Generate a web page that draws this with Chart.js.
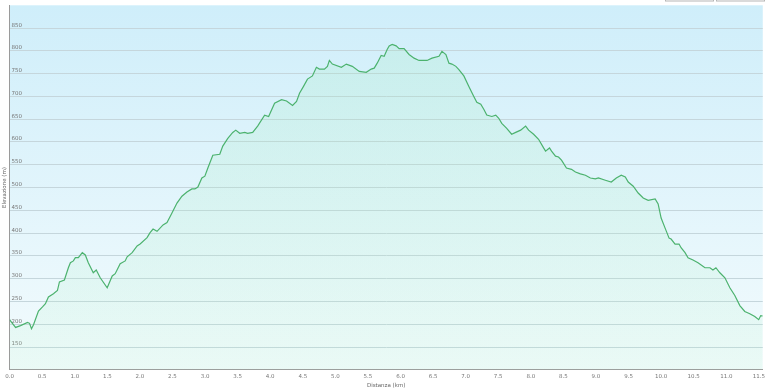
<!DOCTYPE html>
<html><head><meta charset="utf-8">
<style>html,body{margin:0;padding:0;background:#fff;overflow:hidden}</style>
<script src="https://cdn.jsdelivr.net/npm/chart.js@4/dist/chart.umd.min.js"></script>
</head><body>
<canvas id="c" width="768" height="389"></canvas>
<script>
// Distance along the track (km)
const distances = [0.000,0.031,0.092,0.168,0.275,0.306,0.336,0.367,0.443,0.505,0.550,0.596,0.673,0.734,0.765,0.841,0.902,0.933,0.979,1.009,1.055,1.116,1.162,1.208,1.284,1.330,1.391,1.498,1.575,1.621,1.697,1.774,1.804,1.881,1.957,2.003,2.110,2.156,2.202,2.263,2.355,2.416,2.492,2.569,2.645,2.722,2.798,2.844,2.890,2.951,2.997,3.043,3.119,3.226,3.272,3.349,3.425,3.471,3.532,3.609,3.654,3.731,3.807,3.914,3.976,4.067,4.174,4.251,4.343,4.404,4.450,4.511,4.572,4.648,4.709,4.755,4.832,4.878,4.908,4.954,5.092,5.168,5.260,5.367,5.474,5.550,5.596,5.642,5.703,5.749,5.795,5.826,5.872,5.933,5.979,6.055,6.131,6.208,6.284,6.407,6.483,6.590,6.636,6.697,6.743,6.789,6.850,6.896,6.972,7.049,7.125,7.171,7.232,7.278,7.324,7.401,7.462,7.508,7.554,7.630,7.706,7.768,7.844,7.920,7.966,8.043,8.119,8.196,8.226,8.287,8.318,8.379,8.425,8.471,8.547,8.624,8.685,8.761,8.838,8.914,8.991,9.037,9.144,9.235,9.312,9.388,9.450,9.495,9.572,9.648,9.725,9.801,9.908,9.954,10.000,10.061,10.122,10.153,10.214,10.275,10.306,10.367,10.413,10.489,10.566,10.673,10.749,10.795,10.841,10.902,10.979,11.055,11.131,11.208,11.284,11.361,11.437,11.498,11.529,11.560];
// Elevation (m)
const elevations = [210,204,193,197,204,202,190,199,229,238,245,260,267,274,293,297,324,335,339,346,346,357,352,335,313,319,302,280,306,311,333,339,348,357,372,376,390,401,409,404,418,423,444,466,481,490,497,497,501,521,525,543,571,573,591,608,621,626,619,621,619,621,635,659,656,685,693,690,680,689,707,722,738,745,764,760,760,766,779,771,764,771,766,755,753,760,762,773,790,788,803,811,814,811,805,805,792,784,779,779,784,788,799,792,773,771,766,759,745,722,700,687,683,672,659,656,659,652,641,630,617,621,626,635,626,617,606,587,580,587,580,569,567,560,543,540,534,530,527,521,519,521,516,512,521,527,523,512,503,488,477,472,475,464,433,411,389,387,376,376,368,357,346,341,335,324,324,319,324,313,302,280,263,241,228,223,217,210,219,218];
const xMin = 0, xMax = 11.56, xStep = 0.5;
const yMin = 100, yMax = 900, yStep = 50;
const xTitle = 'Distanza (km)';
const yTitle = 'Elevazione (m)';

const points = distances.map((d, i) => ({x: d, y: elevations[i]}));

const bgPlugin = {
  id: 'bg',
  beforeDraw(chart) {
    const {ctx, chartArea: a} = chart;
    const g = ctx.createLinearGradient(0, a.top, 0, a.bottom);
    g.addColorStop(0, '#cfeefa');
    g.addColorStop(1, '#f3fbfd');
    ctx.save();
    ctx.fillStyle = g;
    ctx.fillRect(a.left, a.top, a.right - a.left, a.bottom - a.top);
    ctx.restore();
  },
  afterDraw(chart) {
    const ctx = chart.ctx;
    ctx.save();
    ctx.strokeStyle = '#b5b5b5';
    ctx.lineWidth = 1;
    ctx.strokeRect(665.5, -5, 48, 6);
    ctx.strokeRect(716.5, -5, 48, 6);
    ctx.restore();
  }
};

const font = {family: 'DejaVu Sans', size: 5.5};

new Chart(document.getElementById('c'), {
  type: 'line',
  data: {
    datasets: [{
      data: points,
      borderColor: '#4cb26e',
      borderWidth: 1.2,
      pointRadius: 0,
      tension: 0,
      fill: 'start',
      backgroundColor(ctx) {
        const a = ctx.chart.chartArea;
        if (!a) return 'rgba(140,230,170,0.15)';
        const g = ctx.chart.ctx.createLinearGradient(0, a.top, 0, a.bottom);
        g.addColorStop(0, 'rgba(150,232,180,0.2)');
        g.addColorStop(1, 'rgba(180,242,200,0.14)');
        return g;
      }
    }]
  },
  options: {
    responsive: false,
    devicePixelRatio: 1,
    animation: false,
    layout: {padding: {top: 4, right: 4, left: 0, bottom: -1}},
    plugins: {legend: {display: false}, tooltip: {enabled: false}},
    scales: {
      x: {
        type: 'linear', min: xMin, max: xMax,
        border: {color: '#9a9a9a', width: 1},
        grid: {display: false, drawTicks: false},
        ticks: {stepSize: xStep, includeBounds: false, autoSkip: false, maxRotation: 0,
          color: '#777', font, padding: 3,
          callback: v => Number(v).toFixed(1)},
        title: {display: true, text: xTitle, color: '#666', font, padding: {top: 0, bottom: 1}}
      },
      y: {
        min: yMin, max: yMax,
        border: {color: '#9a9a9a', width: 1},
        grid: {drawTicks: false, lineWidth: 1,
          color: c => (c.tick && (c.tick.value === yMin || c.tick.value === yMax)) ? 'rgba(0,0,0,0)' : '#c5d6dc'},
        ticks: {stepSize: yStep, mirror: true, padding: 2, labelOffset: -3, color: '#777', font,
          callback: v => (v === yMin || v === yMax) ? '' : String(v)},
        title: {display: true, text: yTitle, color: '#666', font, padding: {top: 1.5, bottom: -2.5}}
      }
    }
  },
  plugins: [bgPlugin]
});
</script>
</body></html>
